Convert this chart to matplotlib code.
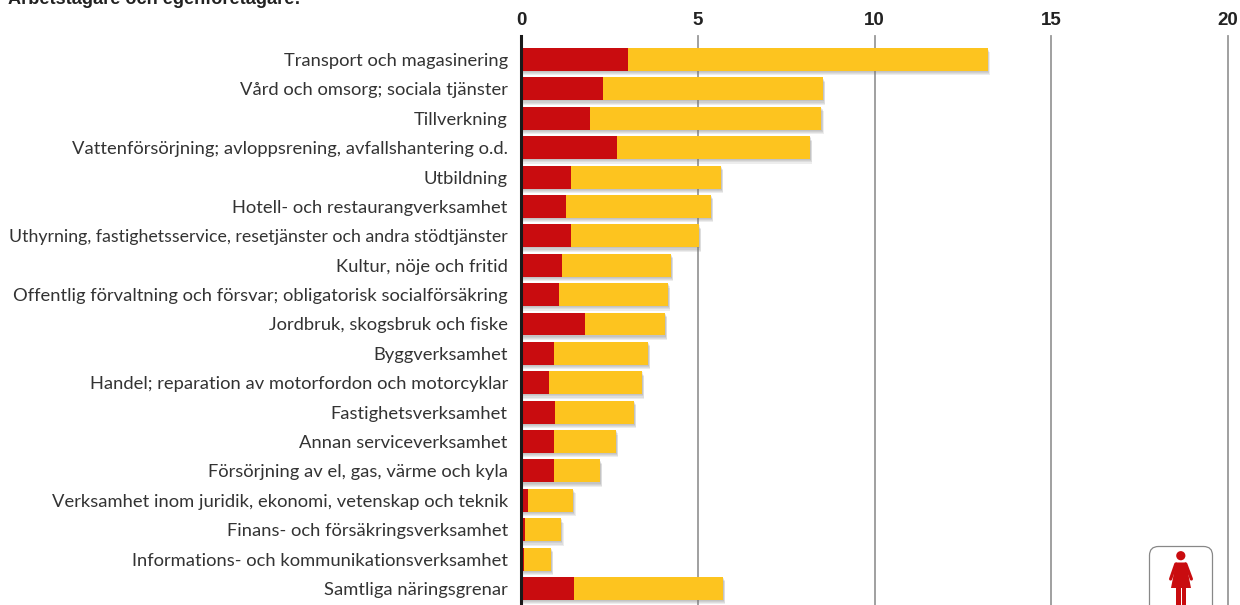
import numpy as np
from matplotlib import pyplot as plt
from matplotlib import patheffects as pe
from matplotlib.patches import Circle, FancyBboxPatch, Polygon, Rectangle

categories = [
    "Transport och magasinering",
    "Vård och omsorg; sociala tjänster",
    "Tillverkning",
    "Vattenförsörjning; avloppsrening, avfallshantering o.d.",
    "Utbildning",
    "Hotell- och restaurangverksamhet",
    "Uthyrning, fastighetsservice, resetjänster och andra stödtjänster",
    "Kultur, nöje och fritid",
    "Offentlig förvaltning och försvar; obligatorisk socialförsäkring",
    "Jordbruk, skogsbruk och fiske",
    "Byggverksamhet",
    "Handel; reparation av motorfordon och motorcyklar",
    "Fastighetsverksamhet",
    "Annan serviceverksamhet",
    "Försörjning av el, gas, värme och kyla",
    "Verksamhet inom juridik, ekonomi, vetenskap och teknik",
    "Finans- och försäkringsverksamhet",
    "Informations- och kommunikationsverksamhet",
    "Samtliga näringsgrenar",
]
red_values = [3.03, 2.33, 1.95, 2.72, 1.42, 1.28, 1.42, 1.17, 1.08, 1.82,
               0.94, 0.80, 0.97, 0.92, 0.94, 0.20, 0.12, 0.09, 1.50]
yellow_values = [10.17, 6.22, 6.55, 5.46, 4.24, 4.10, 3.62, 3.08, 3.08, 2.26,
                 2.66, 2.63, 2.23, 1.77, 1.30, 1.28, 1.02, 0.76, 4.22]
xticks = [0, 5, 10, 15, 20]
title = "Arbetstagare och egenföretagare:"

W, H = 1240, 605
fig = plt.figure(figsize=(W/100, H/100), dpi=100)
plt.rcParams["font.family"] = "Lato"

# axes box in pixels: x 0..20 -> 521..1228, rows 29.39 px apart
ax = fig.add_axes([521/W, 0, (1228-521)/W, 1-36/H])
y = np.arange(len(categories))
# soft shadow, mostly downwards
shadow = [pe.SimplePatchShadow(offset=(o*0.5, -o), shadow_rgbFace="#777777", alpha=0.13) for o in [3.2, 2.4, 1.6, 0.8]]
shadow.append(pe.Normal())
ax.barh(y, np.array(red_values)+np.array(yellow_values), height=0.78, color="#fdc41f",
        path_effects=shadow, zorder=3)
ax.barh(y, red_values, height=0.78, color="#c90c0f", zorder=4)

ax.set_xlim(0, 20)
ax.set_ylim(18+(605-588.5)/29.39, -(59.5-36)/29.39)
ax.xaxis.tick_top()
ax.set_xticks(xticks)
ax.set_xticklabels([str(t) for t in xticks], fontweight="bold", fontsize=13.5, color="#222222", family="Liberation Sans")
ax.set_yticks(y)
ax.set_yticklabels(categories, fontsize=13.2, color="#333333", family="Lato")
# the longest label would run off the left edge at full size
ax.get_yticklabels()[6].set_fontsize(12.75)
ax.tick_params(axis="x", length=0, pad=5)
ax.tick_params(axis="y", length=0, pad=9.5)
ax.grid(axis="x", color="#999999", lw=1.3, zorder=1, clip_on=False)
for line in ax.get_xgridlines():
    line.set_clip_on(False)
for s in ["top", "right", "bottom"]:
    ax.spines[s].set_visible(False)
ax.spines["left"].set_linewidth(2.2)
ax.spines["left"].set_color("#1a1a1a")
ax.spines["left"].set_zorder(6)

fig.text(8/W, 1-4/H, title, fontsize=13.05, fontweight="bold", family="Liberation Sans", color="#222222", va="baseline")

# woman icon, in pixels
ov = fig.add_axes([0, 0, 1, 1])
ov.set_xlim(0, W)
ov.set_ylim(H, 0)
ov.axis("off")
ov.patch.set_alpha(0)
ov.add_patch(FancyBboxPatch((1149.5, 546.5), 63, 80, boxstyle="round,pad=0,rounding_size=9",
                            fc="white", ec="#888888", lw=0.9))
ov.add_patch(Circle((1180.8, 555.7), 4.6, color="#c90c0f", lw=0))
ov.add_patch(Polygon([(1176, 562.5), (1186, 562.5), (1191, 588), (1171, 588)],
                     closed=True, color="#c90c0f", lw=0))
ov.plot([1175.8, 1170.6], [564, 579], color="#c90c0f", lw=2.3, solid_capstyle="round")
ov.plot([1185.8, 1191.4], [564, 579], color="#c90c0f", lw=2.3, solid_capstyle="round")
ov.add_patch(Rectangle((1176, 588), 4.5, 18, color="#c90c0f", lw=0))
ov.add_patch(Rectangle((1181.5, 588), 4.5, 18, color="#c90c0f", lw=0))

plt.savefig("out.png", dpi=100)
plt.close()
